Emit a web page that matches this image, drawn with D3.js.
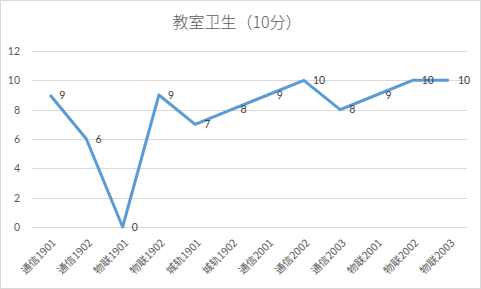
<!DOCTYPE html>
<html>
<head>
<meta charset="utf-8">
<script src="https://cdn.jsdelivr.net/npm/d3@7"></script>
<style>
  body { margin: 0; background: #fff; }
  svg { display: block; }
</style>
</head>
<body>
<div class="chart"></div>
<script>
//Chart data
const categories = ["通信1901", "通信1902", "物联1901", "物联1902", "城轨1901", "城轨1902",
  "通信2001", "通信2002", "通信2003", "物联2001", "物联2002", "物联2003"];
const scores = [9, 6, 0, 9, 7, 8, 9, 10, 8, 9, 10, 10];
const yTicks = [0, 2, 4, 6, 8, 10, 12];
const title = "教室卫生（10分）";

//Sizes
const W = 481, H = 289;
const margin = {top: 51, left: 32, bottom: 62, right: 14};
const width = W - margin.left - margin.right;
const height = H - margin.top - margin.bottom;

const svg = d3.select('.chart')
  .append('svg')
  .attr('width', W)
  .attr('height', H);

//Chart border
svg.append('rect')
  .attr('x', 0.5).attr('y', 0.5)
  .attr('width', W - 1).attr('height', H - 1)
  .attr('fill', '#fff')
  .attr('stroke', '#d9d9d9');

//Title
svg.append('text')
  .attr('x', 237)
  .attr('y', 28)
  .attr('text-anchor', 'middle')
  .attr('fill', '#595959')
  .style('font-family', '"Noto Sans CJK SC", sans-serif')
  .style('font-size', '16px')
  .style('font-weight', 300)
  .text(title);

const g = svg.append('g')
  .attr('transform', `translate(${margin.left},${margin.top})`);

//Scales
const xScale = d3.scaleBand()
  .domain(categories)
  .range([0, width]);

const yScale = d3.scaleLinear()
  .domain([0, 12])
  .range([height, 0]);

//Gridlines
g.selectAll('.grid')
  .data(yTicks)
  .enter()
  .append('line')
  .attr('class', 'grid')
  .attr('x1', 0).attr('x2', width)
  .attr('y1', d => Math.round(yScale(d)) + 0.5)
  .attr('y2', d => Math.round(yScale(d)) + 0.5)
  .attr('stroke', '#d9d9d9')
  .attr('stroke-width', 1);

//Y axis
const yAxis = d3.axisLeft(yScale).tickValues(yTicks).tickSize(0).tickPadding(12);
const yAxisG = g.append('g').attr('class', 'y-axis').call(yAxis);
yAxisG.select('.domain').remove();
yAxisG.selectAll('text')
  .attr('fill', '#595959')
  .style('font-family', 'Lato, "Noto Sans", sans-serif')
  .style('font-size', '10.5px');

//X axis
const xAxis = d3.axisBottom(xScale).tickSize(0);
const xAxisG = g.append('g')
  .attr('class', 'x-axis')
  .attr('transform', `translate(0,${height})`)
  .call(xAxis);
xAxisG.select('.domain').remove();
xAxisG.selectAll('text')
  .attr('fill', '#595959')
  .attr('text-anchor', 'end')
  .attr('x', 0)
  .attr('y', 0)
  .attr('dy', '0.35em')
  .attr('transform', 'translate(4,14) rotate(-45)')
  .style('font-family', '"Noto Sans CJK SC", sans-serif')
  .style('font-size', '10.5px');

//Line
const line = d3.line()
  .x((d, i) => xScale(categories[i]) + xScale.bandwidth() / 2)
  .y(d => yScale(d));

g.append('path')
  .datum(scores)
  .attr('fill', 'none')
  .attr('stroke', '#5b9bd5')
  .attr('stroke-width', 3)
  .attr('stroke-linejoin', 'round')
  .attr('d', line);

//Data labels
g.selectAll('.label')
  .data(scores)
  .enter()
  .append('text')
  .attr('class', 'label')
  .attr('x', (d, i) => xScale(categories[i]) + xScale.bandwidth() / 2 + 9)
  .attr('y', d => yScale(d))
  .attr('dy', '0.35em')
  .attr('fill', '#404040')
  .style('font-family', 'Lato, "Noto Sans", sans-serif')
  .style('font-size', '10.5px')
  .text(d => d);
</script>
</body>
</html>
